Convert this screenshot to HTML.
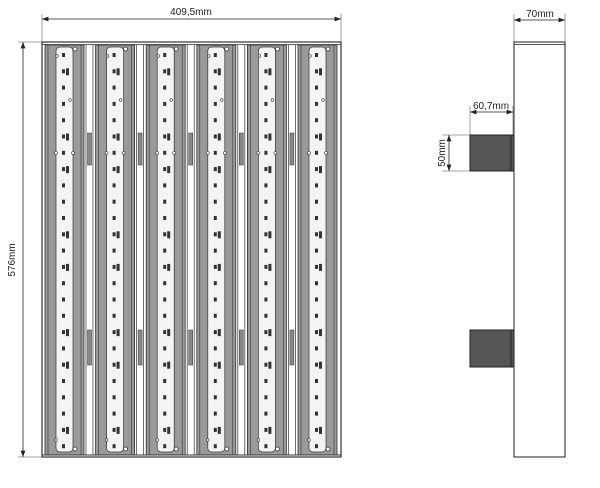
<!DOCTYPE html>
<html><head><meta charset="utf-8"><style>
body{margin:0;background:#fff}
svg{display:block}
text{font-family:"Liberation Sans",sans-serif;font-size:10px;fill:#222}
</style></head><body>
<svg id="s" width="600" height="488" viewBox="0 0 600 488" xmlns="http://www.w3.org/2000/svg">
<defs><marker id="a" markerWidth="8" markerHeight="6" refX="8" refY="3" orient="auto-start-reverse"><path d="M0,0 L8,3 L0,6z" fill="#222"/></marker></defs>
<g stroke="#888" stroke-width="0.8">
<line x1="42" y1="14" x2="42" y2="42"/><line x1="341" y1="14" x2="341" y2="42"/>
<line x1="18" y1="42" x2="42" y2="42"/><line x1="18" y1="457" x2="42" y2="457"/>
<line x1="514" y1="14" x2="514" y2="42"/><line x1="565" y1="14" x2="565" y2="42"/>
<line x1="470" y1="106" x2="470" y2="135"/><line x1="513" y1="106" x2="513" y2="135"/>
<line x1="442" y1="135" x2="470" y2="135"/><line x1="442" y1="171" x2="470" y2="171"/>
</g>
<g stroke="#222" stroke-width="0.8">
<line x1="42" y1="19" x2="341" y2="19" marker-start="url(#a)" marker-end="url(#a)"/>
<line x1="23" y1="42" x2="23" y2="457" marker-start="url(#a)" marker-end="url(#a)"/>
<line x1="514" y1="20" x2="565" y2="20" marker-start="url(#a)" marker-end="url(#a)"/>
<line x1="470" y1="112" x2="513" y2="112" marker-start="url(#a)" marker-end="url(#a)"/>
<line x1="449" y1="135" x2="449" y2="171" marker-start="url(#a)" marker-end="url(#a)"/>
</g>
<text x="191" y="15" text-anchor="middle">409,5mm</text>
<text x="540" y="17" text-anchor="middle">70mm</text>
<text x="491" y="109" text-anchor="middle">60,7mm</text>
<text transform="translate(15,260) rotate(-90)" text-anchor="middle">576mm</text>
<text transform="translate(445,153) rotate(-90)" text-anchor="middle">50mm</text>
<rect x="514" y="42" width="51" height="415" fill="#fff" stroke="#222" stroke-width="1"/>
<line x1="514" y1="44.5" x2="565" y2="44.5" stroke="#222" stroke-width="0.8"/>
<rect x="470" y="135" width="44" height="36" fill="#555" stroke="#222"/>
<line x1="511" y1="135" x2="511" y2="171" stroke="#222"/>
<rect x="470" y="330" width="44" height="37" fill="#555" stroke="#222"/>
<line x1="511" y1="330" x2="511" y2="367" stroke="#222"/>
<rect x="42" y="42" width="299" height="415" fill="#fff" stroke="#333" stroke-width="1.2"/>
<line x1="42" y1="44.5" x2="341" y2="44.5" stroke="#333" stroke-width="0.8"/>
<g id="m"></g>
<line x1="42" y1="455" x2="341" y2="455" stroke="#333" stroke-width="1"/>
</svg>
<script>
var g=document.getElementById('m'),h='';
for(var k=0;k<6;k++){var x=45+50.6*k;
h+='<rect x="'+x+'" y="45" width="39" height="410" fill="#9a9a9a" stroke="#333" stroke-width="0.8"/>';
h+='<line x1="'+(x+3)+'" y1="45" x2="'+(x+3)+'" y2="455" stroke="#333" stroke-width="0.6"/>';
h+='<line x1="'+(x+36)+'" y1="45" x2="'+(x+36)+'" y2="455" stroke="#333" stroke-width="0.6"/>';
h+='<rect x="'+(x+11)+'" y="47" width="17" height="405" rx="4" fill="#f4f4f4" stroke="#333" stroke-width="0.7"/>';
if(k<5){var gx=x+39;
h+='<line x1="'+(gx+2)+'" y1="45" x2="'+(gx+2)+'" y2="455" stroke="#333" stroke-width="0.7"/>';
h+='<line x1="'+(gx+9)+'" y1="45" x2="'+(gx+9)+'" y2="455" stroke="#333" stroke-width="0.7"/>';
h+='<rect x="'+(gx+3.5)+'" y="133" width="4" height="32" fill="#888" stroke="#333" stroke-width="0.5"/>';
h+='<rect x="'+(gx+3.5)+'" y="330" width="4" height="35" fill="#888" stroke="#333" stroke-width="0.5"/>';}
for(var i=0;i<25;i++){var y=53+16.3*i;
h+='<rect x="'+(x+17)+'" y="'+y+'" width="3" height="4" fill="#333"/>';
if(i%6==1||i%6==5)h+='<rect x="'+(x+21)+'" y="'+(y-1)+'" width="3" height="7" fill="#333"/>';}
h+='<circle cx="'+(x+30)+'" cy="49" r="2" fill="#fff" stroke="#333" stroke-width="0.8"/>';
h+='<circle cx="'+(x+30)+'" cy="449" r="2" fill="#fff" stroke="#333" stroke-width="0.8"/>';
h+='<circle cx="'+(x+12)+'" cy="56" r="1.3" fill="#fff" stroke="#333" stroke-width="0.6"/>';
h+='<circle cx="'+(x+25)+'" cy="100" r="1.3" fill="#fff" stroke="#333" stroke-width="0.6"/>';
h+='<circle cx="'+(x+11)+'" cy="153" r="1.5" fill="#fff" stroke="#333" stroke-width="0.6"/>';
h+='<circle cx="'+(x+28)+'" cy="153" r="1.5" fill="#fff" stroke="#333" stroke-width="0.6"/>';
h+='<circle cx="'+(x+11)+'" cy="440" r="1.3" fill="#fff" stroke="#333" stroke-width="0.6"/>';}
g.innerHTML=h;
</script>
</body></html>
